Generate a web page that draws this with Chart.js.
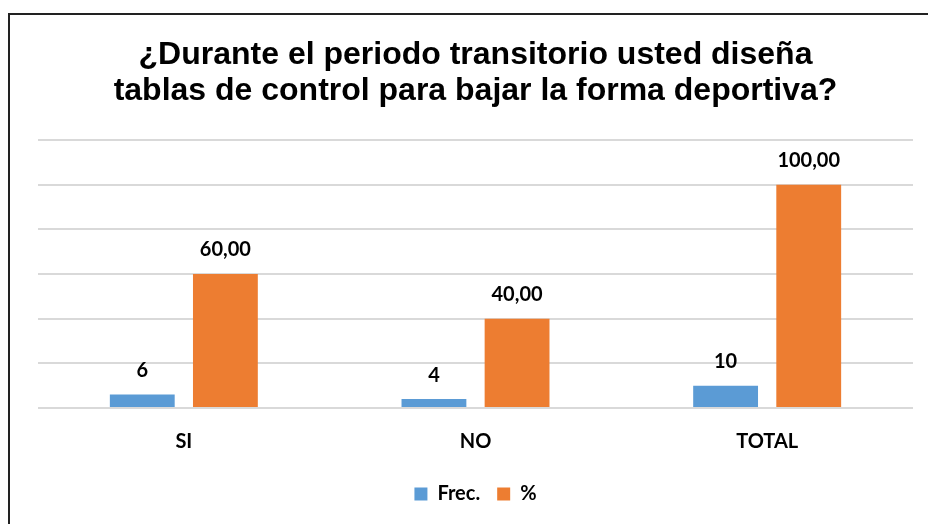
<!DOCTYPE html>
<html>
<head>
<meta charset="utf-8">
<script src="https://cdn.jsdelivr.net/npm/chart.js@4"></script>
<style>
  body { margin: 0; background: #fff; }
  #wrap { position: relative; width: 928px; height: 524px; overflow: hidden; }
  #frame { position: absolute; left: 8px; top: 13px; width: 930px; height: 530px; border: 2px solid #222; box-sizing: border-box; }
  #myChart { position: absolute; left: 0; top: 0; }
</style>
</head>
<body>
<div id="wrap">
  <div id="frame"></div>
  <canvas id="myChart" width="928" height="524"></canvas>
</div>
<script>
var categories = ["SI", "NO", "TOTAL"];
var frecValues = [6, 4, 10];
var pctValues = [60, 40, 100];
var yTicks = [0, 20, 40, 60, 80, 100, 120];

// labels above each bar
var barLabels = {
  id: "barLabels",
  afterDatasetsDraw: function (chart) {
    var ctx = chart.ctx;
    ctx.save();
    ctx.font = "bold 20px Lato";
    ctx.fillStyle = "#000";
    ctx.textAlign = "center";
    ctx.textBaseline = "middle";
    chart.data.datasets.forEach(function (ds, i) {
      var meta = chart.getDatasetMeta(i);
      meta.data.forEach(function (bar, j) {
        var v = ds.data[j];
        var txt = i == 0 ? String(v) : v.toFixed(2).replace(".", ",");
        ctx.fillText(txt, bar.x, bar.y - 24);
      });
    });
    ctx.restore();
  },
};

var ctx = document.getElementById("myChart").getContext("2d");

var myChart = new Chart(ctx, {
  type: "bar",
  data: {
    labels: categories,
    datasets: [
      {
        label: "Frec.",
        data: frecValues,
        backgroundColor: "#5B9BD5",
        categoryPercentage: 0.57,
        barPercentage: 0.78,
      },
      {
        label: "%",
        data: pctValues,
        backgroundColor: "#ED7D31",
        categoryPercentage: 0.57,
        barPercentage: 0.78,
      },
    ],
  },
  options: {
    responsive: false,
    animation: false,
    layout: { padding: { left: 38, right: 15, top: 0, bottom: 10 } },
    plugins: {
      title: {
        display: true,
        text: ["¿Durante el periodo transitorio usted diseña", "tablas de control para bajar la forma deportiva?"],
        color: "#000",
        font: { family: "Liberation Sans", size: 32, weight: "bold", lineHeight: 1.125 },
        padding: { top: 37, bottom: 31 },
      },
      legend: {
        position: "bottom",
        labels: {
          color: "#000",
          font: { family: "Lato", size: 20, weight: "bold" },
          boxWidth: 13,
          boxHeight: 13,
          padding: 17,
        },
      },
      tooltip: { enabled: false },
    },
    scales: {
      x: {
        afterFit: function (axis) {
          axis.height = 59;
        },
        grid: { display: false },
        border: { display: false },
        ticks: { color: "#000", font: { family: "Lato", size: 20, weight: "bold" }, padding: 14 },
      },
      y: {
        min: 0,
        max: 120,
        afterBuildTicks: function (axis) {
          axis.ticks = yTicks.map(function (v) { return { value: v }; });
        },
        ticks: { display: false },
        border: { display: false },
        grid: { color: "#d9d9d9", lineWidth: 2, drawTicks: false },
      },
    },
  },
  plugins: [barLabels],
});
</script>
</body>
</html>
